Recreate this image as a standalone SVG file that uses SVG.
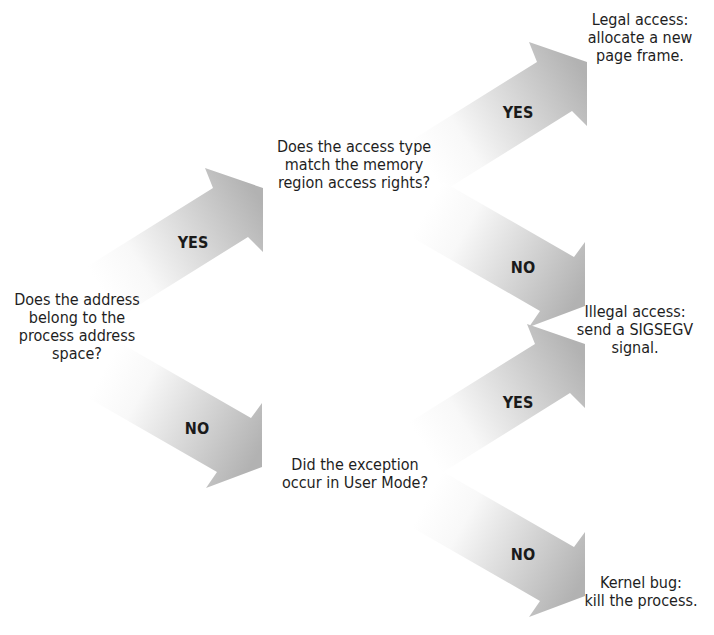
<svg xmlns="http://www.w3.org/2000/svg" width="714" height="635" viewBox="0 0 714 635">
<style>
.t{font-family:"DejaVu Sans","Liberation Sans",sans-serif;font-stretch:condensed;font-size:16px;fill:#1e1e1e;text-anchor:middle}
.l{font-family:"DejaVu Sans","Liberation Sans",sans-serif;font-stretch:condensed;font-weight:bold;font-size:16px;fill:#1a1a1a;text-anchor:middle}
</style>
<defs>
<linearGradient id="gu" gradientUnits="userSpaceOnUse" x1="-160" y1="104" x2="-5" y2="8">
<stop offset="0" stop-color="#ffffff"/>
<stop offset="0.25" stop-color="#f8f8f8"/>
<stop offset="1" stop-color="#b2b2b2"/>
</linearGradient>
<linearGradient id="gd" gradientUnits="userSpaceOnUse" x1="-158" y1="-33" x2="-5" y2="52">
<stop offset="0" stop-color="#ffffff"/>
<stop offset="0.25" stop-color="#f8f8f8"/>
<stop offset="1" stop-color="#b2b2b2"/>
</linearGradient>
<polygon id="up" fill="url(#gu)" points="-50,0 -58,-20 0,0 0,64 -15,49 -142.5,128.5 -177.5,79.5"/>
<polygon id="down" fill="url(#gd)" points="-11,15 0,0 0,64 -56,85 -45,69 -175.5,-6 -141.5,-60"/>
</defs>
<g id="connectors">
<use href="#up" x="263" y="188"/>
<use href="#down" x="262" y="403"/>
<use href="#up" x="587" y="62"/>
<use href="#down" x="585" y="242"/>
<use href="#up" x="585" y="344"/>
<use href="#down" x="585" y="532"/>
<text class="l" x="193" y="248">YES</text>
<text class="l" x="197" y="434">NO</text>
<text class="l" x="518" y="118">YES</text>
<text class="l" x="523" y="273">NO</text>
<text class="l" x="518" y="408">YES</text>
<text class="l" x="523" y="560">NO</text>
</g>
<g id="q1">
<text class="t" x="77" y="305">Does the address</text>
<text class="t" x="77" y="323">belong to the</text>
<text class="t" x="77" y="341">process address</text>
<text class="t" x="77" y="359">space?</text>
</g>
<g id="q2">
<text class="t" x="354" y="152">Does the access type</text>
<text class="t" x="354" y="170">match the memory</text>
<text class="t" x="354" y="188">region access rights?</text>
</g>
<g id="q3">
<text class="t" x="355" y="470">Did the exception</text>
<text class="t" x="355" y="488">occur in User Mode?</text>
</g>
<g id="legal">
<text class="t" x="640" y="25">Legal access:</text>
<text class="t" x="640" y="43">allocate a new</text>
<text class="t" x="640" y="61">page frame.</text>
</g>
<g id="illegal">
<text class="t" x="635" y="317">Illegal access:</text>
<text class="t" x="635" y="335">send a SIGSEGV</text>
<text class="t" x="635" y="353">signal.</text>
</g>
<g id="kernel">
<text class="t" x="641" y="588">Kernel bug:</text>
<text class="t" x="641" y="606">kill the process.</text>
</g>
</svg>
